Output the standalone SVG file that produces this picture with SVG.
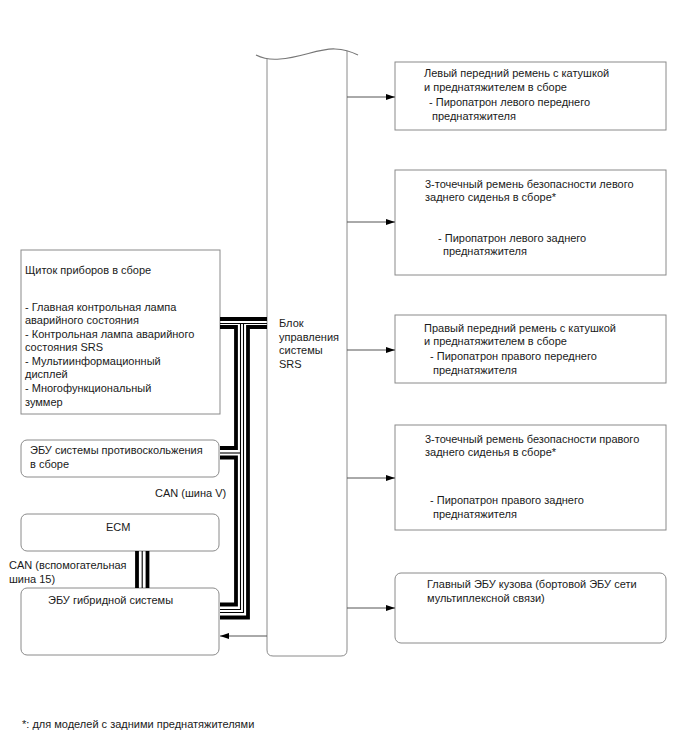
<svg xmlns="http://www.w3.org/2000/svg" width="688" height="755" viewBox="0 0 688 755">
<style>
text{font-family:"Liberation Sans",Arial,sans-serif;font-size:11px;fill:#1a1a1a}
.box{fill:#fff;stroke:#8a8a8a;stroke-width:1}
.ln{fill:none;stroke:#555;stroke-width:1}
.thick{fill:none;stroke:#000;stroke-width:3.8}
.thin{fill:none;stroke:#000;stroke-width:1.1}
</style>
<defs>
<marker id="ah" markerWidth="9" markerHeight="6" refX="9" refY="3" orient="auto" markerUnits="userSpaceOnUse">
<path d="M0,0 L9,3 L0,6 z" fill="#000"/>
</marker>
</defs>
<rect width="688" height="755" fill="#fff"/>

<g id="srs">
<path class="box" d="M267,59 V650 Q267,656 273,656 H341 Q347,656 347,650 V51"/>
<path d="M256,55 C262,58 270,60 280,59 C300,58 320,48 335,49 C345,49.5 352,52 358,55" fill="none" stroke="#777" stroke-width="1.2"/>
<text x="279" y="327">Блок</text>
<text x="279" y="341">управления</text>
<text x="279" y="354">системы</text>
<text x="279" y="368">SRS</text>
</g>

<g id="n_left_front">
<rect class="box" x="395" y="62" width="271" height="68"/>
<text x="424" y="77">Левый передний ремень с катушкой</text>
<text x="424" y="91">и преднатяжителем в сборе</text>
<text x="429" y="106">- Пиропатрон левого переднего</text>
<text x="432" y="120">преднатяжителя</text>
</g>

<g id="n_left_rear">
<rect class="box" x="395" y="170" width="271" height="105"/>
<text x="425" y="188">3-точечный ремень безопасности левого</text>
<text x="425" y="201">заднего сиденья в сборе*</text>
<text x="438" y="242">- Пиропатрон левого заднего</text>
<text x="443" y="255">преднатяжителя</text>
</g>

<g id="n_right_front">
<rect class="box" x="395" y="315" width="271" height="68"/>
<text x="424" y="332">Правый передний ремень с катушкой</text>
<text x="424" y="345">и преднатяжителем в сборе</text>
<text x="430" y="360">- Пиропатрон правого переднего</text>
<text x="433" y="374">преднатяжителя</text>
</g>

<g id="n_right_rear">
<rect class="box" x="395" y="425" width="271" height="105"/>
<text x="425" y="443">3-точечный ремень безопасности правого</text>
<text x="425" y="456">заднего сиденья в сборе*</text>
<text x="430" y="504">- Пиропатрон правого заднего</text>
<text x="433" y="518">преднатяжителя</text>
</g>

<g id="n_body_ecu">
<rect class="box" x="395" y="573" width="271" height="70" rx="6"/>
<text x="427" y="588">Главный ЭБУ кузова (бортовой ЭБУ сети</text>
<text x="427" y="602">мультиплексной связи)</text>
</g>

<g id="n_meter">
<rect class="box" x="21" y="250" width="199" height="164"/>
<text x="25" y="274">Щиток приборов в сборе</text>
<text x="25" y="311">- Главная контрольная лампа</text>
<text x="25" y="324">аварийного состояния</text>
<text x="25" y="338">- Контрольная лампа аварийного</text>
<text x="25" y="351">состояния SRS</text>
<text x="25" y="365">- Мультиинформационный</text>
<text x="25" y="378">дисплей</text>
<text x="25" y="392">- Многофункциональный</text>
<text x="25" y="406">зуммер</text>
</g>

<g id="n_skid">
<rect class="box" x="21" y="440" width="198" height="37" rx="6"/>
<text x="30" y="454">ЭБУ системы противоскольжения</text>
<text x="30" y="468">в сборе</text>
</g>

<g id="n_ecm">
<rect class="box" x="21" y="514" width="198" height="37" rx="6"/>
<text x="106" y="531">ECM</text>
</g>

<g id="n_hybrid">
<rect class="box" x="21" y="588" width="198" height="67" rx="6"/>
<text x="48" y="604">ЭБУ гибридной системы</text>
</g>

<g id="labels">
<text x="155" y="497">CAN (шина V)</text>
<text x="9" y="569">CAN (вспомогательная</text>
<text x="9" y="583">шина 15)</text>
<text x="22" y="728">*: для моделей с задними преднатяжителями</text>
</g>

<g id="connectors">
<path class="ln" d="M347,97 H395" marker-end="url(#ah)"/>
<path class="ln" d="M347,222 H395" marker-end="url(#ah)"/>
<path class="ln" d="M347,350 H395" marker-end="url(#ah)"/>
<path class="ln" d="M347,478 H395" marker-end="url(#ah)"/>
<path class="ln" d="M347,608 H395" marker-end="url(#ah)"/>
<path class="ln" d="M267,636 H220" marker-end="url(#ah)"/>

<path class="thick" d="M220,319 H267"/>
<path class="thick" d="M220,327 H236 V448 H220"/>
<path class="thick" d="M220,457.5 H236 V604.5 H220"/>
<path class="thick" d="M267,327 H248 V617.5 H220"/>
<path class="thin" d="M220,323.5 H267"/>
<path class="thin" d="M240.5,323.5 V609.5 H220"/>
<path class="thin" d="M243.5,323.5 V612.5 H220"/>
<path class="thin" d="M220,453 H240.5"/>

<path class="thick" d="M137,551 V588"/>
<path class="thick" d="M147.5,551 V588"/>
<path class="thin" d="M142.2,551 V588"/>
</g>
</svg>
